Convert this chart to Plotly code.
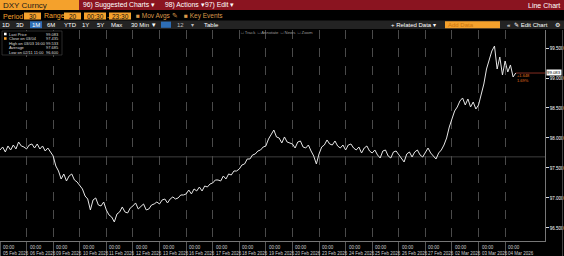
import plotly.graph_objects as go

# ---------------- data ----------------
days = ["05 Feb 2026", "06 Feb 2026", "09 Feb 2026", "10 Feb 2026", "11 Feb 2026",
        "12 Feb 2026", "13 Feb 2026", "16 Feb 2026", "17 Feb 2026", "18 Feb 2026",
        "19 Feb 2026", "20 Feb 2026", "23 Feb 2026", "24 Feb 2026", "25 Feb 2026",
        "26 Feb 2026", "27 Feb 2026", "02 Mar 2026", "03 Mar 2026", "04 Mar 2026"]
day_time_label = "00:00"
slots_per_day = 10

prices_by_day = [
    [97.800, 97.850, 97.767, 97.867, 97.800, 97.883, 97.817, 97.933, 97.867, 97.850],
    [97.817, 97.883, 97.900, 97.833, 97.900, 97.817, 97.867, 97.783, 97.833, 97.767],
    [97.700, 97.533, 97.450, 97.317, 97.400, 97.283, 97.367, 97.400, 97.300, 97.267],
    [97.200, 97.150, 97.033, 96.983, 96.800, 96.967, 97.000, 96.883, 96.867, 96.933],
    [96.800, 96.717, 96.683, 96.600, 96.733, 96.767, 96.850, 96.767, 96.750, 96.833],
    [96.867, 96.917, 96.817, 96.867, 96.900, 96.800, 96.817, 96.883, 96.900, 96.933],
    [96.900, 96.967, 96.983, 96.917, 96.983, 97.017, 96.983, 97.000, 97.050, 97.050],
    [97.067, 97.133, 97.067, 97.150, 97.117, 97.183, 97.117, 97.200, 97.183, 97.233],
    [97.250, 97.300, 97.300, 97.283, 97.367, 97.317, 97.400, 97.383, 97.450, 97.450],
    [97.483, 97.550, 97.567, 97.650, 97.650, 97.717, 97.733, 97.783, 97.800, 97.850],
    [97.867, 97.983, 98.050, 98.133, 98.017, 98.000, 97.917, 98.017, 97.933, 97.917],
    [97.900, 97.833, 97.933, 97.950, 97.850, 97.833, 97.883, 97.783, 97.700, 97.567],
    [97.733, 97.850, 97.883, 97.967, 97.900, 97.883, 97.950, 97.867, 97.833, 97.883],
    [97.800, 97.883, 97.900, 97.833, 97.800, 97.850, 97.750, 97.833, 97.867, 97.783],
    [97.750, 97.800, 97.717, 97.667, 97.783, 97.800, 97.700, 97.667, 97.767, 97.783],
    [97.717, 97.667, 97.600, 97.733, 97.767, 97.683, 97.767, 97.800, 97.717, 97.683],
    [97.750, 97.833, 97.750, 97.700, 97.650, 97.750, 97.800, 97.883, 98.000, 98.183],
    [98.300, 98.450, 98.517, 98.617, 98.667, 98.550, 98.650, 98.517, 98.600, 98.483],
    [98.550, 98.717, 98.900, 99.150, 99.300, 99.450, 99.533, 99.150, 99.350, 99.050],
    [99.283, 99.100, 99.217, 99.017, 99.083],
]
prev_close = 97.435
y_ticks = [96.5, 97.0, 97.5, 98.0, 98.5, 99.0, 99.5]
legend_labels = ["Last Price", "Close on 03/04", "High on 03/03 16:00", "Average", "Low on 02/11 11:00"]

# ---------------- derived ----------------
xs, ys = [], []
for i, vals in enumerate(prices_by_day):
    for k, v in enumerate(vals):
        xs.append(i + k / slots_per_day)
        ys.append(v)
last_price = ys[-1]
high = max(ys)
low = min(ys)
avg = sum(ys) / len(ys)
chg = last_price - prev_close
chg_pct = chg / prev_close * 100

W, H = 564, 256
FONT = "Liberation Sans, Arial, sans-serif"
ORANGE = "#f4a12c"


def X(px):
    return px / W


def Y(py):
    return 1 - py / H


shapes, annos = [], []


def rect(x0, y0, x1, y1, fill, line_color=None, lw=0):
    shapes.append(dict(type="rect", xref="paper", yref="paper", x0=X(x0), x1=X(x1),
                       y0=Y(y1), y1=Y(y0), fillcolor=fill, layer="above",
                       line=dict(width=lw, color=line_color or fill)))


def text(x, y, s, color="white", size=8, anchor="left"):
    annos.append(dict(xref="paper", yref="paper", x=X(x), y=Y(y), text=s,
                      showarrow=False, xanchor=anchor, yanchor="middle",
                      font=dict(color=color, size=size, family=FONT), borderpad=0))


# header row 1
rect(0, 0, 564, 10, "#8a1420")
rect(0, 0, 79, 10, ORANGE)
text(2, 5.2, "DXY Curncy", "#1a1a1a", 8)
text(82, 5.2, "96) Suggested Charts ▾", "white", 6.8)
text(164, 5.2, "98) Actions ▾", "white", 6.8)
text(204, 5.2, "97) Edit ▾", "white", 6.8)
text(561, 5.2, "Line Chart", "white", 7, anchor="right")

# header row 2
text(2, 16, "Period", ORANGE, 7)
rect(24, 12.5, 41, 19.5, ORANGE)
text(32.5, 16, "30", "#111", 6.5, anchor="center")
text(43, 16, "Range", ORANGE, 7)
rect(64, 12.5, 81, 19.5, ORANGE)
text(72.5, 16, "20", "#111", 6.5, anchor="center")
rect(84, 12.5, 106, 19.5, ORANGE)
text(95, 16, "00:30", "#111", 6.5, anchor="center")
text(107.5, 16, "-", ORANGE, 6.5, anchor="center")
rect(109, 12.5, 131, 19.5, ORANGE)
text(120, 16, "23:30", "#111", 6.5, anchor="center")
text(135, 16, "■ Mov Avgs ✎", "#d9984a", 6.5)
text(183, 16, "■ Key Events", "#d9984a", 6.5)

# header row 3
rect(0, 20.5, 564, 29, "#232323")
rect(30, 21.3, 42, 28.2, "#2d6db5")
for lbl, px in [("1D", 6), ("3D", 20), ("1M", 36), ("6M", 51), ("YTD", 70), ("1Y", 85),
                ("5Y", 100), ("Max", 116)]:
    text(px, 24.8, lbl, "white", 6, anchor="center")
text(130, 24.8, "30 Min ▼", "white", 6)
rect(161, 21.6, 171, 27.8, "#2d6db5")
text(176, 24.8, "12", "#bbb", 6)
text(190, 24.8, "▾", "#bbb", 6)
text(203, 24.8, "Table", "white", 6)
text(390, 24.8, "+ Related Data ▾", "white", 6)
rect(445, 21.3, 500, 28.2, ORANGE)
text(447, 24.8, "Add Data", "#c9740f", 6)
text(506, 24.8, "«", "white", 6)
text(513, 24.8, "✎ Edit Chart", "white", 6)
text(557, 24.8, "⚙", "white", 6, anchor="center")

# chart overlay texts
text(240, 32.3, "□ Track  □ Annotate  □ News  □ Zoom", "#9a9a9a", 4.3)

# legend box
rect(2, 31, 62, 55, "black", "#555", 0.5)
legend_vals = [last_price, prev_close, high, avg, low]
marker_cols = ["white", ORANGE, None, None, None]
for j, (lab, val) in enumerate(zip(legend_labels, legend_vals)):
    yy = 34 + j * 4.5
    if marker_cols[j]:
        rect(4, yy - 1.3, 6.6, yy + 1.3, marker_cols[j])
    text(8, yy, lab, "#dddddd", 4)
    text(60, yy, "%.3f" % val, "#dddddd", 4, anchor="right")

# change text next to last price
text(516, 75, "%+.3f" % chg, "#e0701f", 4)
text(516, 80, "%.2f%%" % chg_pct, "#e0701f", 4)

# last price tag
annos.append(dict(xref="paper", yref="y", x=X(546), y=last_price, text="%.3f" % last_price,
                  showarrow=False, xanchor="left", yanchor="middle", bgcolor="white", yshift=1,
                  font=dict(color="black", size=4.3, family=FONT), borderpad=0))

# day labels
for i, d in enumerate(days):
    annos.append(dict(xref="x", yref="paper", x=i, y=Y(242.5), text=day_time_label + "<br>" + d,
                      showarrow=False, xanchor="left", yanchor="top", xshift=1, align="left",
                      font=dict(color="#cfcfcf", size=4.5, family=FONT)))

# reference lines
shapes.append(dict(type="line", xref="paper", yref="y", x0=0, x1=X(545), y0=avg, y1=avg,
                   line=dict(color="#6a6a6a", width=0.6), layer="below"))
shapes.append(dict(type="line", xref="x", yref="y", x0=xs[-1], x1=20.5, y0=last_price, y1=last_price,
                   line=dict(color="#a4382a", width=0.8), layer="below"))
# right frame edge
shapes.append(dict(type="line", xref="paper", yref="paper", x0=X(562.5), x1=X(562.5), y0=0, y1=Y(30),
                   line=dict(color="#555", width=0.8)))

fig = go.Figure()
fig.add_trace(go.Scatter(x=xs, y=ys, mode="lines", line=dict(color="#e6e6e6", width=1),
                         hoverinfo="skip", showlegend=False))

fig.update_layout(
    width=W, height=H, margin=dict(l=0, r=0, t=0, b=0),
    paper_bgcolor="black", plot_bgcolor="black", showlegend=False,
    shapes=shapes, annotations=annos,
    xaxis=dict(domain=[0, X(545)], range=[0, 20.5], tickvals=list(range(len(days))),
               showticklabels=False, ticks="outside", ticklen=14, tickcolor="#555", tickwidth=0.6,
               showgrid=True, gridcolor="#4a4a4a", gridwidth=0.6, griddash="dash",
               showline=True, linecolor="#777", linewidth=0.8, zeroline=False, fixedrange=True),
    yaxis=dict(domain=[Y(241), Y(30)], range=[96.283, 99.80], side="right",
               tickvals=y_ticks, tickformat=".3f", ticks="outside", ticklen=3, tickcolor="#ddd",
               tickfont=dict(color="white", size=4.5, family=FONT),
               showgrid=False, showline=True, linecolor="#777", linewidth=0.8, zeroline=False,
               fixedrange=True),
)

fig.write_html("out.html")
